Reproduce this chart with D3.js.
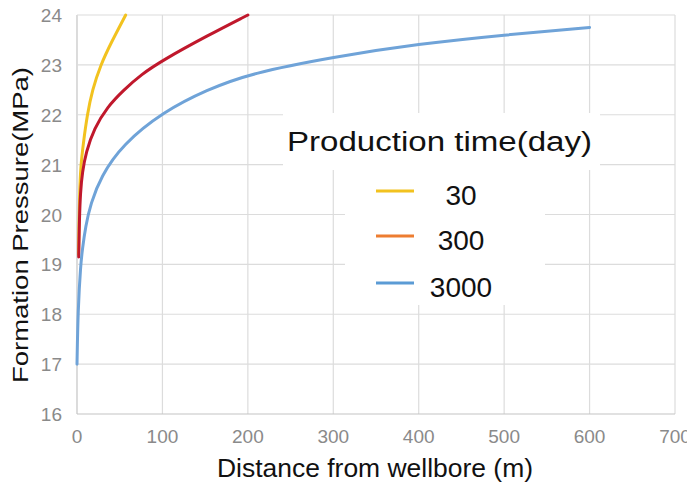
<!DOCTYPE html>
<html>
<head>
<meta charset="utf-8">
<script src="https://cdn.jsdelivr.net/npm/d3@7"></script>
<style>
  body { margin: 0; background: #fff; }
  text { font-family: "Liberation Sans", Arial, sans-serif; }
</style>
</head>
<body>
<div id="chart"></div>
<script>
// values
const seriesNames = ["30", "300", "3000"];
const lineColors = ["#f2c21f", "#c0182c", "#6fa3d8"];
const legendColors = ["#f2c21f", "#ed7d31", "#5b9bd5"];

const dist30 = [1.8, 2.3, 3, 4.3, 7.4, 12, 17.9, 27.7, 39.5, 57];
const pres30 = [19.2, 19.8, 20.4, 20.96, 21.43, 22.0, 22.5, 23.0, 23.43, 24.0];

const dist300 = [2, 2.8, 4, 6.3, 10.5, 20, 35.5, 55, 74.5, 101, 152, 200];
const pres300 = [19.15, 19.9, 20.45, 20.85, 21.25, 21.72, 22.16, 22.5, 22.8, 23.1, 23.58, 24.0];

const dist3000 = [0, 1.2, 4.3, 6.3, 10, 16, 28, 53, 101, 152, 203, 300, 400, 500, 600];
const pres3000 = [17.0, 18.1, 19.0, 19.3, 19.76, 20.22, 20.76, 21.4, 22.06, 22.5, 22.83, 23.16, 23.42, 23.6, 23.75];

const xTicks = [0, 100, 200, 300, 400, 500, 600, 700];
const yTicks = [16, 17, 18, 19, 20, 21, 22, 23, 24];

const width = 687, height = 485;
const margin = { top: 15, right: 12, bottom: 71, left: 77 };

const svg = d3.select("#chart").append("svg")
  .attr("width", width)
  .attr("height", height);

const x = d3.scaleLinear().domain([0, 700]).range([margin.left, width - margin.right]);
const y = d3.scaleLinear().domain([16, 24]).range([height - margin.bottom, margin.top]);

// grid
svg.append("g").selectAll("line").data(xTicks).join("line")
  .attr("x1", d => x(d)).attr("x2", d => x(d))
  .attr("y1", y(24)).attr("y2", y(16))
  .attr("stroke", d => d === 0 ? "#c4c4c4" : "#dcdcdc").attr("stroke-width", 1.2);
svg.append("g").selectAll("line").data(yTicks).join("line")
  .attr("x1", x(0)).attr("x2", x(700))
  .attr("y1", d => y(d)).attr("y2", d => y(d))
  .attr("stroke", d => d === 16 ? "#c4c4c4" : "#dcdcdc").attr("stroke-width", 1.2);

// tick labels
svg.append("g").selectAll("text").data(yTicks).join("text")
  .attr("x", x(0) - 15).attr("y", d => y(d) + 7)
  .attr("text-anchor", "end")
  .style("font-family", "'Liberation Sans Narrow', 'Arial Narrow', sans-serif")
  .style("font-size", "19px").attr("fill", "#8a8a8a")
  .text(d => d);
svg.append("g").selectAll("text").data(xTicks).join("text")
  .attr("x", d => x(d)).attr("y", y(16) + 29)
  .attr("text-anchor", "middle")
  .style("font-family", "'Liberation Sans Narrow', 'Arial Narrow', sans-serif")
  .style("font-size", "19px").attr("fill", "#8a8a8a")
  .text(d => d);

// axis titles
svg.append("text")
  .attr("x", 375).attr("y", 477)
  .attr("text-anchor", "middle")
  .attr("textLength", 316).attr("lengthAdjust", "spacingAndGlyphs")
  .style("font-size", "26px").attr("fill", "#111")
  .text("Distance from wellbore (m)");
svg.append("text")
  .attr("transform", "translate(28,225) rotate(-90)")
  .attr("text-anchor", "middle")
  .attr("textLength", 316).attr("lengthAdjust", "spacingAndGlyphs")
  .style("font-size", "22px").attr("fill", "#111")
  .text("Formation Pressure(MPa)");

// curves
const series = [
  d3.zip(dist30, pres30),
  d3.zip(dist300, pres300),
  d3.zip(dist3000, pres3000)
];
const line = d3.line()
  .x(d => x(d[0])).y(d => y(d[1]))
  .curve(d3.curveBasis);

svg.append("g").selectAll("path").data(series).join("path")
  .attr("d", line)
  .attr("fill", "none")
  .attr("stroke", (_, i) => lineColors[i])
  .attr("stroke-width", 3)
  .attr("stroke-linecap", "round");

// legend
svg.append("rect").attr("x", 283).attr("y", 113).attr("width", 317).attr("height", 57).attr("fill", "#fff");
svg.append("rect").attr("x", 345).attr("y", 170).attr("width", 200).attr("height", 135).attr("fill", "#fff");
svg.append("text")
  .attr("x", 287).attr("y", 151)
  .attr("textLength", 305).attr("lengthAdjust", "spacingAndGlyphs")
  .style("font-size", "27px").attr("fill", "#111")
  .text("Production time(day)");

const legendY = [191, 236, 283];
const leg = svg.append("g").selectAll("g").data(seriesNames).join("g")
  .attr("transform", (_, i) => `translate(0,${legendY[i]})`);
leg.append("line")
  .attr("x1", 376).attr("x2", 414).attr("y1", 0).attr("y2", 0)
  .attr("stroke", (_, i) => legendColors[i]).attr("stroke-width", 3);
leg.append("text")
  .attr("x", 461).attr("y", 14)
  .attr("text-anchor", "middle")
  .style("font-family", "'Liberation Sans Narrow', 'Arial Narrow', sans-serif")
  .style("font-size", "28px").attr("fill", "#111")
  .text(d => d);
</script>
</body>
</html>
